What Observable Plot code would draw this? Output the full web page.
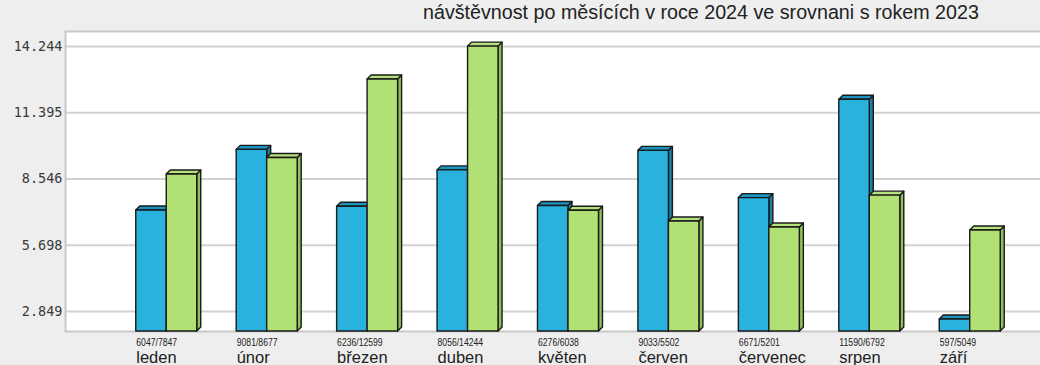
<!DOCTYPE html>
<html>
<head>
<meta charset="utf-8">
<script src="https://cdn.jsdelivr.net/npm/d3@7"></script>
<script src="https://cdn.jsdelivr.net/npm/@observablehq/plot@0.6"></script>
<style>
  html, body { margin: 0; padding: 0; background: #eeeeee; overflow: hidden; }
  #wrap { position: relative; width: 1040px; height: 365px; overflow: hidden; background: #eeeeee; }
  #title { position: absolute; left: 423px; top: 1px; font-family: "Liberation Sans", Arial, sans-serif; font-size: 19.7px; color: #222; white-space: nowrap; }
  .layer { position: absolute; left: 0; top: 0; }
</style>
</head>
<body>
<div id="wrap">
  <div id="title"></div>
  <div id="back" class="layer"></div>
  <div id="front" class="layer"></div>
</div>
<script>
const titleText = "návštěvnost po měsících v roce 2024 ve srovnani s rokem 2023";
const months = ["leden", "únor", "březen", "duben", "květen", "červen", "červenec", "srpen", "září"];
const visits2024 = [6047, 9081, 6236, 8056, 6276, 9033, 6671, 11590, 597];
const visits2023 = [7847, 8677, 12599, 14244, 6038, 5502, 5201, 6792, 5049];
const yTickValues = [2849, 5698, 8546, 11395, 14244];

const W = 1060, H = 365;
const margins = {marginTop: 31, marginBottom: 34, marginLeft: 65, marginRight: 10};
const layerStyle = {background: "transparent", overflow: "visible", maxWidth: "none"};
const czFormat = d3.formatLocale({decimal: ",", thousands: ".", grouping: [3], currency: ["", " Kč"]}).format(",d");

document.getElementById("title").textContent = titleText;

// background layer: frame, grid, y axis (the grid of the original is on its own offset scale)
const back = Plot.plot({
  width: W, height: H, ...margins,
  style: layerStyle,
  x: {axis: null},
  y: {domain: [1989, 14889], axis: null},
  marks: [
    Plot.frame({fill: "white", stroke: "none"}),
    Plot.ruleY(yTickValues, {stroke: "#d2d2d2", strokeWidth: 2}),
    Plot.frame({stroke: "#c8c8c8", strokeWidth: 2}),
    Plot.axisY(yTickValues, {
      tickSize: 0, tickPadding: 3, label: null,
      tickFormat: czFormat,
      fontFamily: "DejaVu Sans Mono", fontSize: 13.5, fill: "#3a3a3a"
    })
  ]
});
document.getElementById("back").appendChild(back);

// front layer: 3D bars and labels
const D = 4;
const colors2024 = {front: "#29b2de", top: "#1d93c0", side: "#1a7fa8"};
const colors2023 = {front: "#b1e174", top: "#b4e27a", side: "#8fc257"};

function box3d(colors, insetL, insetR) {
  return function(index, scales, values) {
    const bw = scales.x.bandwidth ? scales.x.bandwidth() : 61;
    const g = d3.create("svg:g")
      .attr("stroke", "#1a1a1a").attr("stroke-width", 1.4).attr("stroke-linejoin", "round");
    for (const i of index) {
      const x0 = values.x[i] + insetL, x1 = values.x[i] + bw - insetR;
      const yt = Math.min(values.y1[i], values.y2[i]);
      const yb = Math.max(values.y1[i], values.y2[i]);
      g.append("path")
        .attr("d", `M${x1},${yb}L${x1 + D},${yb - D}L${x1 + D},${yt - D}L${x1},${yt}Z`)
        .attr("fill", colors.side);
      g.append("path")
        .attr("d", `M${x0},${yt}L${x0 + D},${yt - D}L${x1 + D},${yt - D}L${x1},${yt}Z`)
        .attr("fill", colors.top);
      g.append("rect")
        .attr("x", x0).attr("y", yt).attr("width", x1 - x0).attr("height", yb - yt)
        .attr("fill", colors.front);
    }
    return g.node();
  };
}

const rows2024 = months.map((m, i) => ({month: m, value: visits2024[i]}));
const rows2023 = months.map((m, i) => ({month: m, value: visits2023[i]}));
const half = 30.5;

const front = Plot.plot({
  width: W, height: H, ...margins,
  style: layerStyle,
  x: {domain: months, paddingInner: 0.3927, paddingOuter: 0.6, align: 0.587, round: false, axis: null},
  y: {domain: [0, 15000], axis: null},
  marks: [
    Plot.barY(rows2024, {x: "month", y: "value", fill: colors2024.front, insetRight: half,
      render: box3d(colors2024, 0, half)}),
    Plot.barY(rows2023, {x: "month", y: "value", fill: colors2023.front, insetLeft: half,
      render: box3d(colors2023, half, 0)}),
    Plot.text(months, {
      x: d => d, text: (d, i) => `${visits2024[i]}/${visits2023[i]}`,
      frameAnchor: "bottom", textAnchor: "start", lineAnchor: "bottom",
      dx: -half, dy: 14.5, fontSize: 11.5, fontFamily: "Liberation Sans", fill: "#222",
      className: "pairlabel"
    }),
    Plot.text(months, {
      x: d => d, text: d => d,
      frameAnchor: "bottom", textAnchor: "start", lineAnchor: "bottom",
      dx: -half, dy: 31, fontSize: 16.5, fontFamily: "Liberation Sans", fill: "#222"
    })
  ]
});
// condensed look of the small value-pair labels
d3.select(front).selectAll(".pairlabel text")
  .attr("lengthAdjust", "spacingAndGlyphs")
  .attr("textLength", function() { return this.textContent.length * 4.55; });
document.getElementById("front").appendChild(front);
</script>
</body>
</html>
